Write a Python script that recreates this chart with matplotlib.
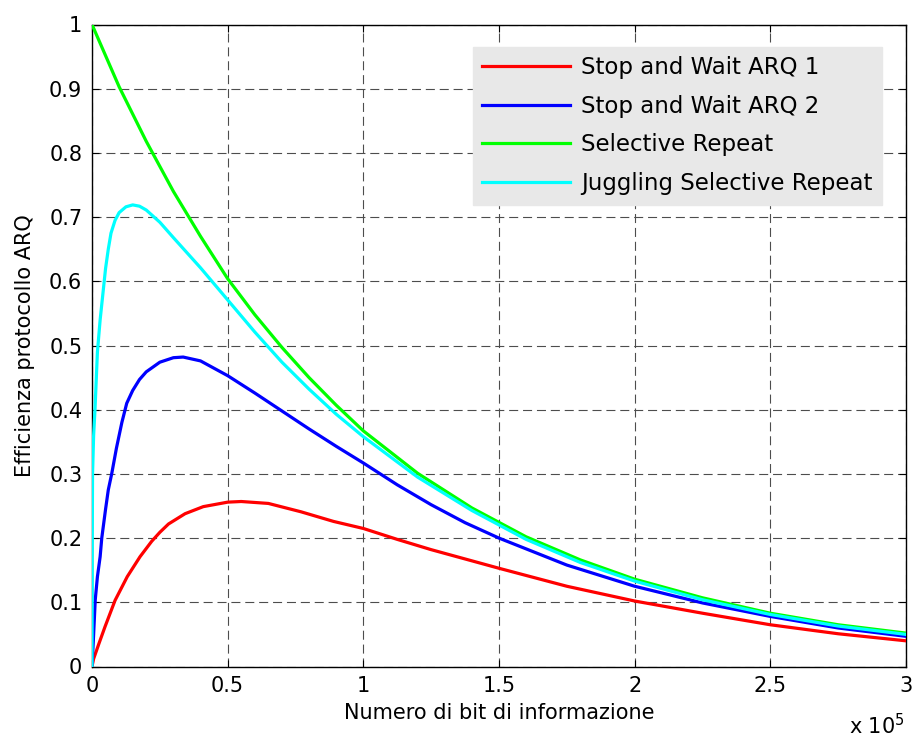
import matplotlib
matplotlib.use("Agg")
import matplotlib.pyplot as plt
from matplotlib.ticker import FuncFormatter

# x values in units of 1e5 bits
x_sw1 = [0, 0.006, 0.025, 0.048, 0.085, 0.13, 0.177, 0.22, 0.25, 0.282, 0.343, 0.41, 0.5, 0.55,
         0.65, 0.77, 0.89, 1.0, 1.125, 1.25, 1.5, 1.75, 2.0, 2.25, 2.5, 2.75, 3.0]
y_sw1 = [0.0, 0.012, 0.035, 0.062, 0.103, 0.14, 0.171, 0.195, 0.209, 0.222, 0.238, 0.249, 0.256, 0.257,
         0.254, 0.241, 0.226, 0.215, 0.198, 0.182, 0.153, 0.125, 0.102, 0.083, 0.065, 0.051, 0.040]

x_sw2 = [0, 0.005, 0.012, 0.02, 0.03, 0.036, 0.05, 0.06, 0.073, 0.09, 0.11, 0.128, 0.15, 0.175, 0.2,
         0.25, 0.3, 0.336, 0.4, 0.5, 0.6, 0.7, 0.8, 0.9, 1.0, 1.125, 1.25, 1.375, 1.5, 1.75, 2.0,
         2.25, 2.5, 2.75, 3.0]
y_sw2 = [0.0, 0.041, 0.104, 0.14, 0.171, 0.2, 0.245, 0.275, 0.301, 0.34, 0.38, 0.41, 0.43, 0.447,
         0.459, 0.474, 0.481, 0.482, 0.476, 0.453, 0.426, 0.398, 0.370, 0.343, 0.317, 0.283, 0.252,
         0.224, 0.200, 0.158, 0.125, 0.099, 0.078, 0.060, 0.047]

x_sr = [0, 0.1, 0.2, 0.3, 0.4, 0.5, 0.6, 0.7, 0.8, 0.9, 1.0, 1.2, 1.4, 1.6, 1.8, 2.0, 2.25, 2.5, 2.75, 3.0]
y_sr = [1.0, 0.903, 0.818, 0.740, 0.670, 0.604, 0.548, 0.497, 0.450, 0.407, 0.367, 0.301, 0.247,
        0.202, 0.166, 0.136, 0.107, 0.083, 0.065, 0.052]

x_jsr = [0, 0.001, 0.002, 0.006, 0.011, 0.02, 0.03, 0.04, 0.05, 0.06, 0.07, 0.085, 0.1, 0.125, 0.15,
         0.175, 0.2, 0.25, 0.3, 0.4, 0.5, 0.6, 0.7, 0.8, 0.9, 1.0, 1.2, 1.4, 1.6, 1.8, 2.0, 2.25, 2.5,
         2.75, 3.0]
y_jsr = [0.0, 0.20, 0.30, 0.36, 0.40, 0.49, 0.54, 0.58, 0.62, 0.65, 0.675, 0.695, 0.707, 0.716, 0.719,
         0.717, 0.711, 0.692, 0.668, 0.621, 0.571, 0.521, 0.474, 0.432, 0.393, 0.358, 0.295, 0.243,
         0.198, 0.162, 0.133, 0.104, 0.081, 0.063, 0.050]

labels = ["Stop and Wait ARQ 1", "Stop and Wait ARQ 2", "Selective Repeat",
          "Juggling Selective Repeat"]
colors = ["#ff0000", "#0000ff", "#00ff00", "#00ffff"]
x_ticks = [0, 0.5, 1, 1.5, 2, 2.5, 3]
y_ticks = [0, 0.1, 0.2, 0.3, 0.4, 0.5, 0.6, 0.7, 0.8, 0.9, 1]

SCALE = 1e5
FS = 15
LFS = 16.5

plt.rcParams['font.family'] = ['DejaVu Sans']
plt.rcParams['lines.scale_dashes'] = False
plt.rcParams['mathtext.fontset'] = 'dejavusans'

fig = plt.figure(figsize=(9.16, 7.4), dpi=100)
ax = fig.add_axes([92/916, 1 - 666.5/740, (906-92)/916, (666.5-24.5)/740])

series = [(x_sw1, y_sw1), (x_sw2, y_sw2), (x_sr, y_sr), (x_jsr, y_jsr)]
for (xs, ys), lab, col in zip(series, labels, colors):
    ax.plot([v * SCALE for v in xs], ys, color=col, lw=2.3, label=lab, zorder=3)

ax.set_xlim(0, 3 * SCALE)
ax.set_ylim(0, 1)
ax.set_xticks([t * SCALE for t in x_ticks])
ax.set_yticks(y_ticks)
ax.xaxis.set_major_formatter(FuncFormatter(lambda v, p: ('%g' % (v / SCALE))))
ax.yaxis.set_major_formatter(FuncFormatter(lambda v, p: ('%g' % v)))
ax.tick_params(direction='in', length=5, width=0.8, labelsize=FS, top=True, right=True,
               pad=7)
ax.grid(True, color='0.3', linestyle=(0, (6.5, 3.5)), linewidth=0.8)
ax.set_axisbelow(True)
for s in ax.spines.values():
    s.set_linewidth(1.0)
    s.set_color('black')

ax.set_xlabel("Numero di bit di informazione", fontsize=FS, labelpad=5)
ax.set_ylabel("Efficienza protocollo ARQ", fontsize=FS, labelpad=10)

fig.text(905/916, 1 - 738/740, r"x 10$^5$", fontsize=FS, ha='right', va='bottom')

leg = ax.legend(loc='upper right', bbox_to_anchor=(882/916, 1 - 46.5/740),
                bbox_transform=fig.transFigure, fontsize=LFS, handlelength=3.8,
                handletextpad=0.5, labelspacing=0.68, borderaxespad=0, borderpad=0.42,
                fancybox=False, framealpha=1.0)
leg.get_frame().set_facecolor('#e8e8e8')
leg.get_frame().set_edgecolor('#e8e8e8')

fig.savefig("out.png", dpi=100)
